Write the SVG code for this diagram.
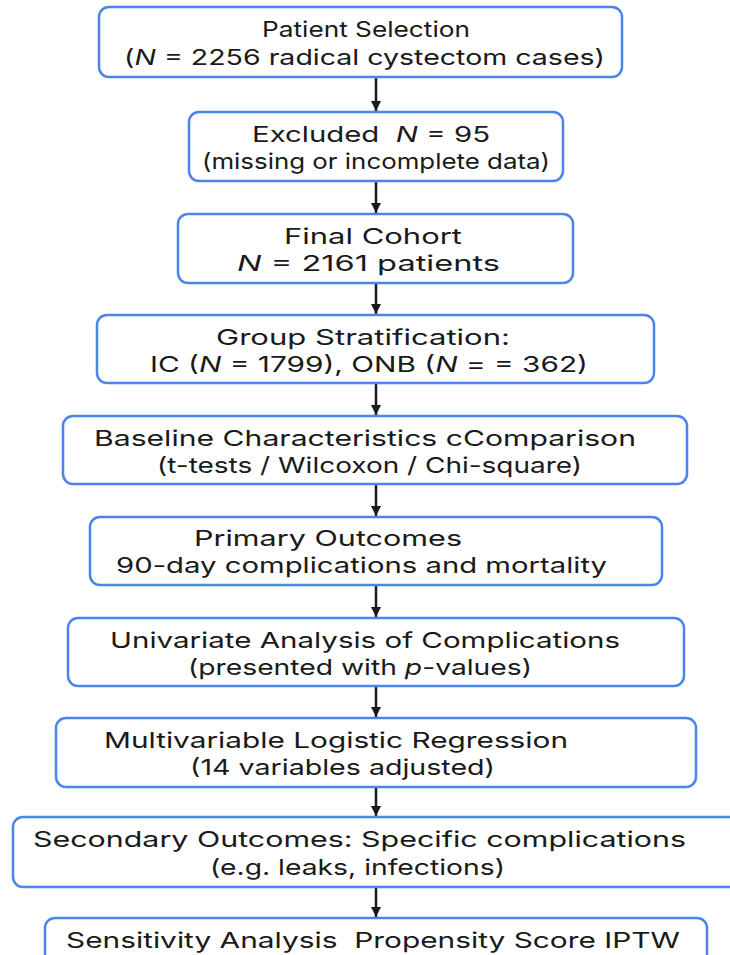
<svg xmlns="http://www.w3.org/2000/svg" width="730" height="955" viewBox="0 0 730 955">
<style>
.box{fill:#ffffff;stroke:#4a86e8;stroke-width:2.5}
text{font-family:"Inter","Open Sans","Liberation Sans",sans-serif;font-size:22px;fill:#1a1a1a;white-space:pre}
.i{font-style:italic}
.c{stroke:#1a1a1a;stroke-width:2.5;fill:none}
</style>
<defs>
<marker id="ah" viewBox="0 0 10 10" refX="10" refY="5" markerWidth="4.2" markerHeight="4.2" orient="auto" markerUnits="strokeWidth">
<path d="M0,0 L10,5 L0,10 z" fill="#1a1a1a"/>
</marker>
</defs>
<rect width="730" height="955" fill="#ffffff"/>
<g id="connectors">
<line class="c" x1="376" y1="78" x2="376" y2="111" marker-end="url(#ah)"/>
<line class="c" x1="376" y1="182" x2="376" y2="213" marker-end="url(#ah)"/>
<line class="c" x1="376" y1="284" x2="376" y2="314" marker-end="url(#ah)"/>
<line class="c" x1="376" y1="384" x2="376" y2="415" marker-end="url(#ah)"/>
<line class="c" x1="376" y1="485" x2="376" y2="516" marker-end="url(#ah)"/>
<line class="c" x1="376" y1="586" x2="376" y2="617" marker-end="url(#ah)"/>
<line class="c" x1="376" y1="687" x2="376" y2="717" marker-end="url(#ah)"/>
<line class="c" x1="376" y1="788" x2="376" y2="816" marker-end="url(#ah)"/>
<line class="c" x1="376" y1="888" x2="376" y2="917" marker-end="url(#ah)"/>
</g>
<g id="n1">
<rect class="box" x="99" y="7" width="523" height="70" rx="10"/>
<text x="262" y="37" textLength="208" lengthAdjust="spacingAndGlyphs">Patient Selection</text>
<text x="124" y="65" textLength="481" lengthAdjust="spacingAndGlyphs">(<tspan class="i">N</tspan> = 2256 radical cystectom cases)</text>
</g>
<g id="n2">
<rect class="box" x="189" y="112" width="374" height="69" rx="10"/>
<text x="252" y="142" textLength="238" lengthAdjust="spacingAndGlyphs" xml:space="preserve">Excluded  <tspan class="i">N</tspan> = 95</text>
<text x="202" y="169" textLength="348" lengthAdjust="spacingAndGlyphs">(missing or incomplete data)</text>
</g>
<g id="n3">
<rect class="box" x="178" y="214" width="395" height="69" rx="10"/>
<text x="284" y="244" textLength="178" lengthAdjust="spacingAndGlyphs">Final Cohort</text>
<text x="237" y="271" textLength="263" lengthAdjust="spacingAndGlyphs"><tspan class="i">N</tspan> = 2161 patients</text>
</g>
<g id="n4">
<rect class="box" x="97" y="315" width="557" height="68" rx="10"/>
<text x="216" y="345" textLength="294" lengthAdjust="spacingAndGlyphs">Group Stratification:</text>
<text x="150" y="372" textLength="438" lengthAdjust="spacingAndGlyphs">IC (<tspan class="i">N</tspan> = 1799), ONB (<tspan class="i">N</tspan> = = 362)</text>
</g>
<g id="n5">
<rect class="box" x="63" y="416" width="624" height="68" rx="10"/>
<text x="94" y="446" textLength="542" lengthAdjust="spacingAndGlyphs">Baseline Characteristics cComparison</text>
<text x="157" y="473" textLength="425" lengthAdjust="spacingAndGlyphs">(t-tests / Wilcoxon / Chi-square)</text>
</g>
<g id="n6">
<rect class="box" x="90" y="517" width="572" height="68" rx="10"/>
<text x="194" y="546" textLength="268" lengthAdjust="spacingAndGlyphs">Primary Outcomes</text>
<text x="116" y="573" textLength="491" lengthAdjust="spacingAndGlyphs">90-day complications and mortality</text>
</g>
<g id="n7">
<rect class="box" x="68" y="618" width="616" height="68" rx="10"/>
<text x="110" y="648" textLength="510" lengthAdjust="spacingAndGlyphs">Univariate Analysis of Complications</text>
<text x="188" y="675" textLength="344" lengthAdjust="spacingAndGlyphs">(presented with <tspan class="i">p</tspan>-values)</text>
</g>
<g id="n8">
<rect class="box" x="56" y="718" width="640" height="69" rx="10"/>
<text x="104" y="748" textLength="464" lengthAdjust="spacingAndGlyphs">Multivariable Logistic Regression</text>
<text x="190" y="775" textLength="305" lengthAdjust="spacingAndGlyphs">(14 variables adjusted)</text>
</g>
<g id="n9">
<rect class="box" x="13" y="817" width="730" height="70" rx="10"/>
<text x="33" y="847" textLength="653" lengthAdjust="spacingAndGlyphs">Secondary Outcomes: Specific complications</text>
<text x="210" y="875" textLength="295" lengthAdjust="spacingAndGlyphs">(e.g. leaks, infections)</text>
</g>
<g id="n10">
<rect class="box" x="45" y="918" width="662" height="60" rx="10"/>
<text x="66" y="948" textLength="614" lengthAdjust="spacingAndGlyphs" xml:space="preserve">Sensitivity Analysis  Propensity Score IPTW</text>
</g>
</svg>
